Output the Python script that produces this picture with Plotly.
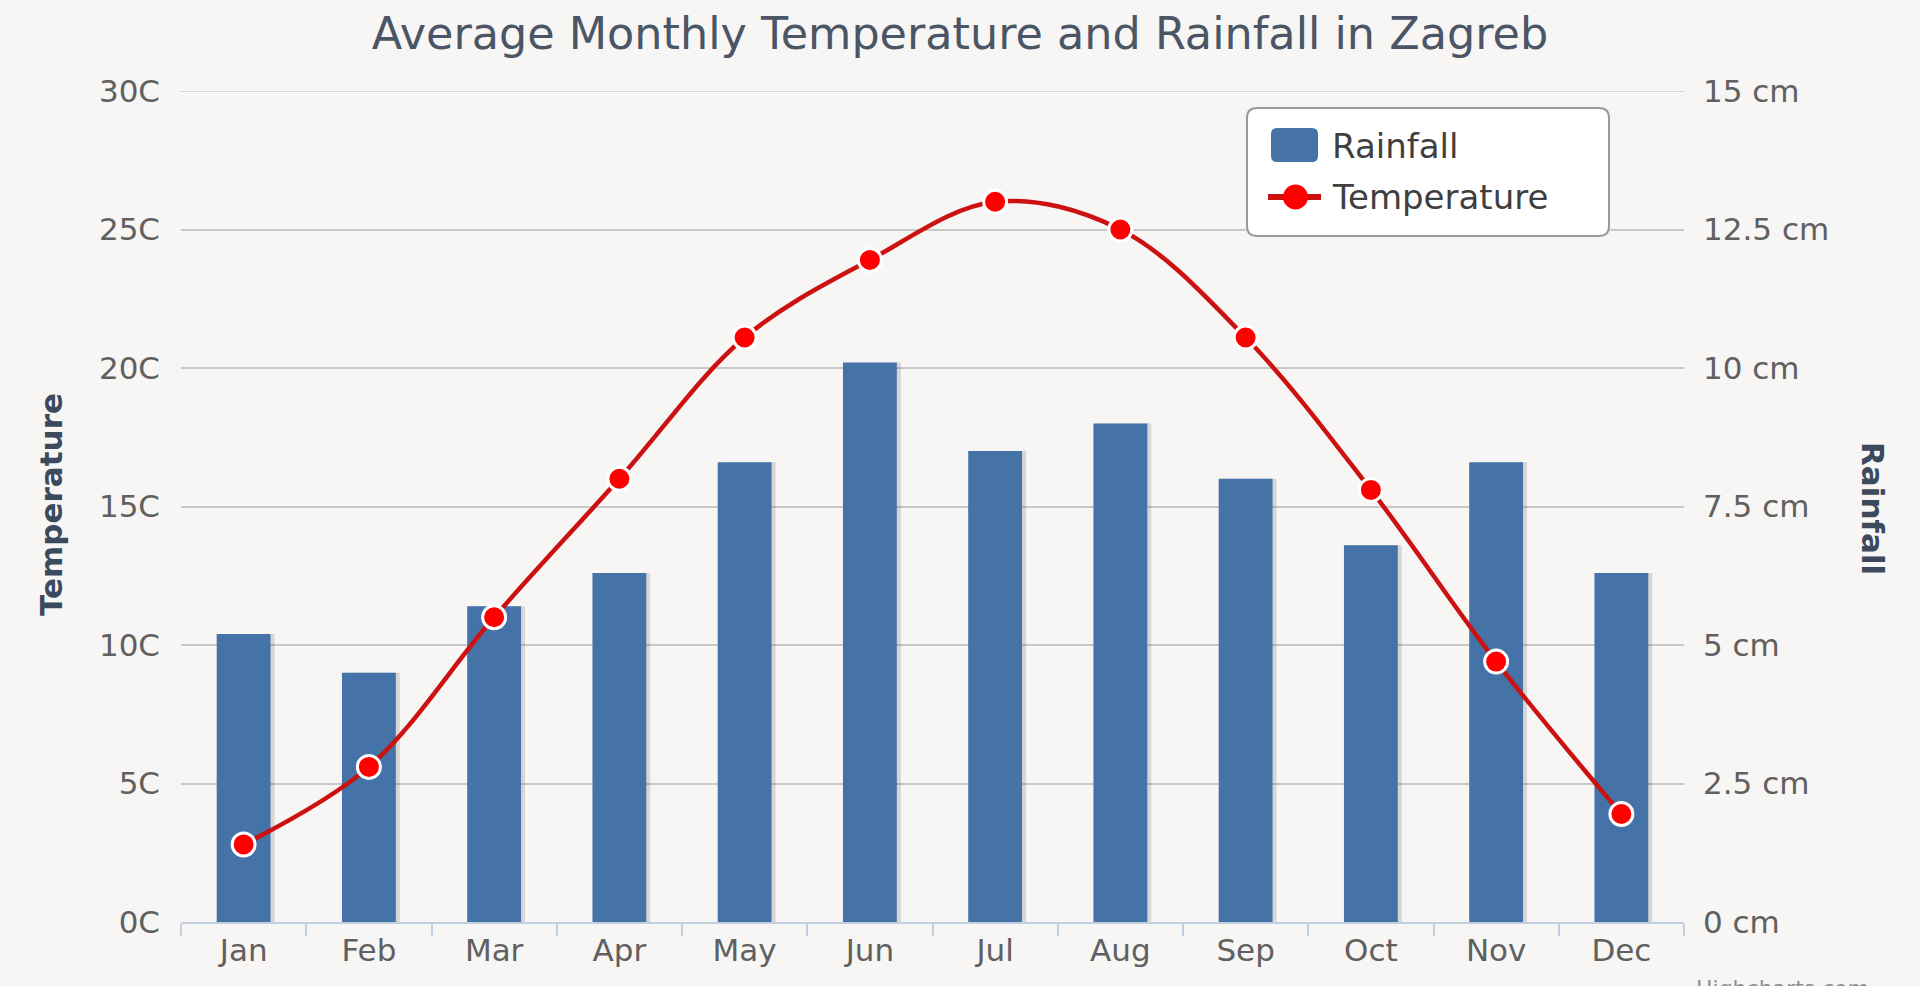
import plotly.graph_objects as go

months = ["Jan", "Feb", "Mar", "Apr", "May", "Jun", "Jul", "Aug", "Sep", "Oct", "Nov", "Dec"]
rainfall_cm = [5.2, 4.5, 5.7, 6.3, 8.3, 10.1, 8.5, 9.0, 8.0, 6.8, 8.3, 6.3]
temperature_c = [2.8, 5.6, 11.0, 16.0, 21.1, 23.9, 26.0, 25.0, 21.1, 15.6, 9.4, 3.9]

temp_ticks = [0, 5, 10, 15, 20, 25, 30]
rain_ticks = [0, 2.5, 5, 7.5, 10, 12.5, 15]

W, H = 1920, 986
L, R, T, B = 181, 236, 91, 64
PW, PH = W - L - R, H - T - B

def px_x(x):
    return (x - L) / PW

def px_y(y):
    return (H - B - y) / PH

BG = "#f7f6f4"
FONT = "DejaVu Sans"
GRID = "#c8c8c8"
BAR_W = 0.43
BAR_COLOR = "#4572A7"
LINE_COLOR = "#CC1111"
MARKER_COLOR = "#FF0000"

fig = go.Figure()

# bar shadow
fig.add_trace(go.Bar(
    x=months, y=rainfall_cm, yaxis="y", width=BAR_W, offset=-BAR_W / 2 + 4 / 125.25,
    marker=dict(color="rgba(0,0,0,0.13)", line=dict(width=0)),
    showlegend=False, hoverinfo="skip",
))
fig.add_trace(go.Bar(
    name="Rainfall", x=months, y=rainfall_cm, yaxis="y", width=BAR_W, offset=-BAR_W / 2,
    marker=dict(color=BAR_COLOR, line=dict(width=0)), showlegend=False,
))
fig.add_trace(go.Scatter(
    name="Temperature", x=months, y=temperature_c, yaxis="y2", mode="lines+markers",
    line=dict(color=LINE_COLOR, width=4.5, shape="spline", smoothing=1.0),
    marker=dict(color=MARKER_COLOR, size=23, line=dict(color="white", width=3)),
    showlegend=False,
))

tickfont = dict(family=FONT, size=31, color="#606060")

fig.update_layout(
    width=W, height=H,
    margin=dict(l=L, r=R, t=T, b=B),
    paper_bgcolor=BG, plot_bgcolor=BG,
    barmode="overlay",
    font=dict(family=FONT, color="#606060"),
    title=dict(
        text="Average Monthly Temperature and Rainfall in Zagreb",
        x=0.5, xref="container", xanchor="center",
        y=1 - 33 / H, yref="container", yanchor="middle",
        font=dict(family=FONT, size=44.5, color="#4a5565"),
    ),
    xaxis=dict(
        type="category", categoryorder="array", categoryarray=months,
        range=[-0.5, 11.5],
        showgrid=False, showline=True, linecolor="#c0d0e0", linewidth=2,
        ticks="outside", tickson="boundaries", ticklen=12, tickcolor="#c0d0e0", tickwidth=2,
        tickfont=tickfont,
        zeroline=False,
    ),
    yaxis=dict(
        side="right", range=[0, 15], tickvals=rain_ticks,
        ticktext=[f"{v:g} cm" for v in rain_ticks],
        showgrid=True, gridcolor=GRID, gridwidth=1.5,
        zeroline=False, showline=False, ticks="",
        ticklabelstandoff=18,
        tickfont=tickfont,
    ),
    yaxis2=dict(
        side="left", overlaying="y", range=[0, 30], tickvals=temp_ticks,
        ticktext=[f"{v}C" for v in temp_ticks],
        showgrid=False, zeroline=False, showline=False, ticks="",
        ticklabelstandoff=20,
        tickfont=tickfont,
    ),
    showlegend=False,
    hovermode=False,
)

# top gridline (plotly omits the one on the plot edge)
fig.add_shape(type="line", xref="paper", yref="y", x0=0, x1=1, y0=rain_ticks[-1], y1=rain_ticks[-1],
              line=dict(color=GRID, width=1.5), layer="below")

def rounded_rect(xa, ya, xb, yb, r):
    x0, x1 = px_x(xa), px_x(xb)
    y0, y1 = px_y(yb), px_y(ya)
    rx, ry = r / PW, r / PH
    return (
        f"M {x0 + rx},{y1} L {x1 - rx},{y1} Q {x1},{y1} {x1},{y1 - ry} "
        f"L {x1},{y0 + ry} Q {x1},{y0} {x1 - rx},{y0} "
        f"L {x0 + rx},{y0} Q {x0},{y0} {x0},{y0 + ry} "
        f"L {x0},{y1 - ry} Q {x0},{y1} {x0 + rx},{y1} Z"
    )

# legend frame and keys
fig.add_shape(type="path", path=rounded_rect(1247, 108, 1609, 236, 10), xref="paper", yref="paper",
              fillcolor="white", line=dict(color="#9a9a9a", width=2), layer="above")
fig.add_shape(type="path", path=rounded_rect(1271, 128, 1318, 162, 6), xref="paper", yref="paper",
              fillcolor=BAR_COLOR, line=dict(width=0), layer="above")
fig.add_shape(type="line", x0=px_x(1268), x1=px_x(1321), y0=px_y(197), y1=px_y(197),
              xref="paper", yref="paper", line=dict(color=LINE_COLOR, width=6), layer="above")
fig.add_shape(type="circle", x0=px_x(1283), x1=px_x(1308), y0=px_y(209.5), y1=px_y(184.5),
              xref="paper", yref="paper", fillcolor=MARKER_COLOR, line=dict(width=0), layer="above")

legend_font = dict(family=FONT, size=34, color="#3f3f3f")
fig.add_annotation(text="Rainfall", xref="paper", yref="paper", x=px_x(1330), y=px_y(146),
                   xanchor="left", yanchor="middle", showarrow=False, font=legend_font)
fig.add_annotation(text="Temperature", xref="paper", yref="paper", x=px_x(1330), y=px_y(197),
                   xanchor="left", yanchor="middle", showarrow=False, font=legend_font)

fig.add_annotation(text="<b>Temperature</b>", xref="paper", yref="paper",
                   x=px_x(51), y=px_y(505), xanchor="center", yanchor="middle",
                   textangle=-90, showarrow=False,
                   font=dict(family=FONT, size=31, color="#3b4a5c"))
fig.add_annotation(text="<b>Rainfall</b>", xref="paper", yref="paper",
                   x=px_x(1873), y=px_y(508), xanchor="center", yanchor="middle",
                   textangle=90, showarrow=False,
                   font=dict(family=FONT, size=31, color="#3b4a5c"))
fig.add_annotation(text="Highcharts.com", xref="paper", yref="paper",
                   x=px_x(1694), y=px_y(974), xanchor="left", yanchor="top",
                   showarrow=False, font=dict(family=FONT, size=22, color="#909090"))

fig.write_html(
    "out.html",
    config={"displayModeBar": False},
    post_script="document.body.style.margin='0';document.body.style.overflow='hidden';",
)
